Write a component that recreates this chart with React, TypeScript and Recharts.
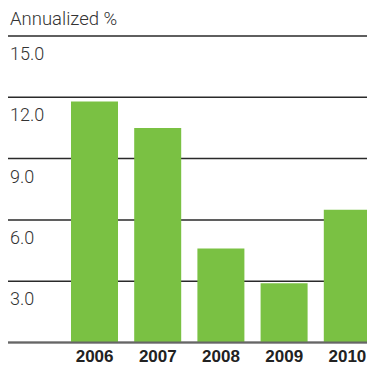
import React from "react";
import { BarChart, Bar, XAxis, YAxis, CartesianGrid } from "recharts";

const years = ["2006", "2007", "2008", "2009", "2010"];
const returns = [11.8, 10.5, 4.6, 2.9, 6.5];
const yTicks = [0, 3, 6, 9, 12, 15];
const yTickLabels = ["", "3.0", "6.0", "9.0", "12.0", "15.0"];
const title = "Annualized %";

const data = years.map((y, i) => ({ year: y, value: returns[i] }));

const YTick = (props: any) => {
  const { y, payload } = props;
  const idx = yTicks.indexOf(payload.value);
  const label = idx >= 0 ? yTickLabels[idx] : "";
  if (!label) return <g />;
  return (
    <text
      x={10}
      y={y + 24}
      textAnchor="start"
      fontFamily="Roboto, 'Liberation Sans', sans-serif"
      fontWeight={300}
      fontSize={18}
      fill="#333"
    >
      {label}
    </text>
  );
};

const XTick = (props: any) => {
  const { x, payload } = props;
  return (
    <text
      x={x}
      y={362}
      textAnchor="middle"
      fontFamily="'Liberation Sans', Arial, sans-serif"
      fontWeight={700}
      fontSize={17}
      fill="#222"
    >
      {payload.value}
    </text>
  );
};

export default function App() {
  return (
    <div
      style={{
        position: "absolute",
        left: 0,
        top: 0,
        width: 367,
        height: 365,
        overflow: "hidden",
        background: "#fff",
      }}
    >
      <div
        style={{
          position: "absolute",
          left: 10,
          top: 7,
          fontFamily: "Roboto, 'Liberation Sans', sans-serif",
          fontWeight: 300,
          fontSize: 18.5,
          color: "#333",
          lineHeight: "24px",
          whiteSpace: "nowrap",
        }}
      >
        {title}
      </div>
      <div style={{ position: "absolute", left: 0, top: 0 }}>
        <BarChart
          width={379}
          height={365}
          data={data}
          margin={{ top: 36, right: 0, bottom: 0, left: 0 }}
        >
          <CartesianGrid
            horizontal={true}
            vertical={false}
            stroke="#2a2a2a"
            strokeWidth={1.5}
          />
          <XAxis
            dataKey="year"
            height={22.5}
            padding={{ left: 55, right: 0 }}
            axisLine={{ stroke: "#666", strokeWidth: 2 }}
            tickLine={false}
            tick={<XTick />}
            interval={0}
          />
          <YAxis
            width={8}
            domain={[0, 15]}
            ticks={yTicks}
            interval={0}
            axisLine={false}
            tickLine={false}
            tick={<YTick />}
          />
          <Bar
            dataKey="value"
            fill="#7AC143"
            barSize={47}
            isAnimationActive={false}
          />
        </BarChart>
      </div>
    </div>
  );
}
